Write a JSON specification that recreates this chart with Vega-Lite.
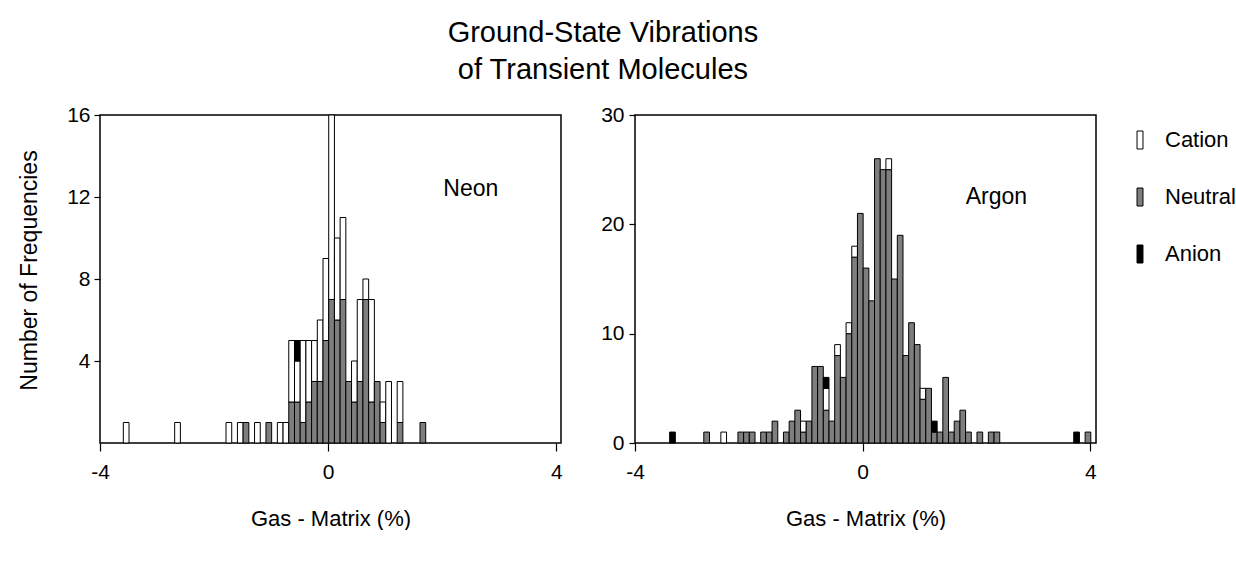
{
  "$schema": "https://vega.github.io/schema/vega-lite/v6.json",
  "padding": {"left": 17, "top": 19, "right": 0, "bottom": 0},
  "background": "white",
  "config": {
    "font": "Liberation Sans",
    "view": {"stroke": "black", "strokeWidth": 1.5},
    "axis": {"domain": false, "grid": false, "labelFont": "Liberation Sans", "labelFontSize": 21, "labelColor": "black", "tickColor": "black", "tickWidth": 1.2, "titleFont": "Liberation Sans", "titleFontSize": 22, "titleFontWeight": "normal", "titleColor": "black"},
    "legend": {"labelFont": "Liberation Sans", "labelFontSize": 22, "labelColor": "black"},
    "concat": {"spacing": 35}
  },
  "title": {"text": ["Ground-State Vibrations", "of Transient Molecules"], "fontSize": 29, "fontWeight": "normal", "lineHeight": 37, "anchor": "middle", "offset": 18, "dx": -31, "font": "Liberation Sans", "color": "black"},
  "datasets": {
    "bars": [
      {"gas": "Neon", "lo": -3.6, "hi": -3.5, "type": "Cation", "n": 1},
      {"gas": "Neon", "lo": -2.7, "hi": -2.6, "type": "Cation", "n": 1},
      {"gas": "Neon", "lo": -1.8, "hi": -1.7, "type": "Cation", "n": 1},
      {"gas": "Neon", "lo": -1.6, "hi": -1.5, "type": "Cation", "n": 1},
      {"gas": "Neon", "lo": -1.5, "hi": -1.4, "type": "Neutral", "n": 1},
      {"gas": "Neon", "lo": -1.3, "hi": -1.2, "type": "Cation", "n": 1},
      {"gas": "Neon", "lo": -1.1, "hi": -1.0, "type": "Neutral", "n": 1},
      {"gas": "Neon", "lo": -0.9, "hi": -0.8, "type": "Cation", "n": 1},
      {"gas": "Neon", "lo": -0.8, "hi": -0.7, "type": "Cation", "n": 1},
      {"gas": "Neon", "lo": -0.7, "hi": -0.6, "type": "Neutral", "n": 2},
      {"gas": "Neon", "lo": -0.7, "hi": -0.6, "type": "Cation", "n": 3},
      {"gas": "Neon", "lo": -0.6, "hi": -0.5, "type": "Neutral", "n": 2},
      {"gas": "Neon", "lo": -0.6, "hi": -0.5, "type": "Cation", "n": 2},
      {"gas": "Neon", "lo": -0.6, "hi": -0.5, "type": "Anion", "n": 1},
      {"gas": "Neon", "lo": -0.5, "hi": -0.4, "type": "Neutral", "n": 1},
      {"gas": "Neon", "lo": -0.5, "hi": -0.4, "type": "Cation", "n": 4},
      {"gas": "Neon", "lo": -0.4, "hi": -0.3, "type": "Neutral", "n": 2},
      {"gas": "Neon", "lo": -0.4, "hi": -0.3, "type": "Cation", "n": 3},
      {"gas": "Neon", "lo": -0.3, "hi": -0.2, "type": "Neutral", "n": 3},
      {"gas": "Neon", "lo": -0.3, "hi": -0.2, "type": "Cation", "n": 2},
      {"gas": "Neon", "lo": -0.2, "hi": -0.1, "type": "Neutral", "n": 3},
      {"gas": "Neon", "lo": -0.2, "hi": -0.1, "type": "Cation", "n": 3},
      {"gas": "Neon", "lo": -0.1, "hi": 0.0, "type": "Neutral", "n": 5},
      {"gas": "Neon", "lo": -0.1, "hi": 0.0, "type": "Cation", "n": 4},
      {"gas": "Neon", "lo": 0.0, "hi": 0.1, "type": "Neutral", "n": 7},
      {"gas": "Neon", "lo": 0.0, "hi": 0.1, "type": "Cation", "n": 9},
      {"gas": "Neon", "lo": 0.1, "hi": 0.2, "type": "Neutral", "n": 6},
      {"gas": "Neon", "lo": 0.1, "hi": 0.2, "type": "Cation", "n": 4},
      {"gas": "Neon", "lo": 0.2, "hi": 0.3, "type": "Neutral", "n": 7},
      {"gas": "Neon", "lo": 0.2, "hi": 0.3, "type": "Cation", "n": 4},
      {"gas": "Neon", "lo": 0.3, "hi": 0.4, "type": "Neutral", "n": 3},
      {"gas": "Neon", "lo": 0.4, "hi": 0.5, "type": "Neutral", "n": 2},
      {"gas": "Neon", "lo": 0.4, "hi": 0.5, "type": "Cation", "n": 2},
      {"gas": "Neon", "lo": 0.5, "hi": 0.6, "type": "Neutral", "n": 3},
      {"gas": "Neon", "lo": 0.5, "hi": 0.6, "type": "Cation", "n": 4},
      {"gas": "Neon", "lo": 0.6, "hi": 0.7, "type": "Neutral", "n": 7},
      {"gas": "Neon", "lo": 0.6, "hi": 0.7, "type": "Cation", "n": 1},
      {"gas": "Neon", "lo": 0.7, "hi": 0.8, "type": "Neutral", "n": 2},
      {"gas": "Neon", "lo": 0.7, "hi": 0.8, "type": "Cation", "n": 5},
      {"gas": "Neon", "lo": 0.8, "hi": 0.9, "type": "Neutral", "n": 3},
      {"gas": "Neon", "lo": 0.9, "hi": 1.0, "type": "Neutral", "n": 1},
      {"gas": "Neon", "lo": 0.9, "hi": 1.0, "type": "Cation", "n": 1},
      {"gas": "Neon", "lo": 1.0, "hi": 1.1, "type": "Cation", "n": 3},
      {"gas": "Neon", "lo": 1.2, "hi": 1.3, "type": "Neutral", "n": 1},
      {"gas": "Neon", "lo": 1.2, "hi": 1.3, "type": "Cation", "n": 2},
      {"gas": "Neon", "lo": 1.6, "hi": 1.7, "type": "Neutral", "n": 1},

      {"gas": "Argon", "lo": -3.4, "hi": -3.3, "type": "Anion", "n": 1},
      {"gas": "Argon", "lo": -2.8, "hi": -2.7, "type": "Neutral", "n": 1},
      {"gas": "Argon", "lo": -2.5, "hi": -2.4, "type": "Cation", "n": 1},
      {"gas": "Argon", "lo": -2.2, "hi": -2.1, "type": "Neutral", "n": 1},
      {"gas": "Argon", "lo": -2.1, "hi": -2.0, "type": "Neutral", "n": 1},
      {"gas": "Argon", "lo": -2.0, "hi": -1.9, "type": "Neutral", "n": 1},
      {"gas": "Argon", "lo": -1.8, "hi": -1.7, "type": "Neutral", "n": 1},
      {"gas": "Argon", "lo": -1.7, "hi": -1.6, "type": "Neutral", "n": 1},
      {"gas": "Argon", "lo": -1.6, "hi": -1.5, "type": "Neutral", "n": 2},
      {"gas": "Argon", "lo": -1.4, "hi": -1.3, "type": "Neutral", "n": 1},
      {"gas": "Argon", "lo": -1.3, "hi": -1.2, "type": "Neutral", "n": 2},
      {"gas": "Argon", "lo": -1.2, "hi": -1.1, "type": "Neutral", "n": 3},
      {"gas": "Argon", "lo": -1.1, "hi": -1.0, "type": "Neutral", "n": 1},
      {"gas": "Argon", "lo": -1.1, "hi": -1.0, "type": "Cation", "n": 1},
      {"gas": "Argon", "lo": -1.0, "hi": -0.9, "type": "Neutral", "n": 2},
      {"gas": "Argon", "lo": -0.9, "hi": -0.8, "type": "Neutral", "n": 7},
      {"gas": "Argon", "lo": -0.8, "hi": -0.7, "type": "Neutral", "n": 7},
      {"gas": "Argon", "lo": -0.7, "hi": -0.6, "type": "Neutral", "n": 3},
      {"gas": "Argon", "lo": -0.7, "hi": -0.6, "type": "Cation", "n": 2},
      {"gas": "Argon", "lo": -0.7, "hi": -0.6, "type": "Anion", "n": 1},
      {"gas": "Argon", "lo": -0.6, "hi": -0.5, "type": "Neutral", "n": 2},
      {"gas": "Argon", "lo": -0.5, "hi": -0.4, "type": "Neutral", "n": 8},
      {"gas": "Argon", "lo": -0.5, "hi": -0.4, "type": "Cation", "n": 1},
      {"gas": "Argon", "lo": -0.4, "hi": -0.3, "type": "Neutral", "n": 6},
      {"gas": "Argon", "lo": -0.3, "hi": -0.2, "type": "Neutral", "n": 10},
      {"gas": "Argon", "lo": -0.3, "hi": -0.2, "type": "Cation", "n": 1},
      {"gas": "Argon", "lo": -0.2, "hi": -0.1, "type": "Neutral", "n": 17},
      {"gas": "Argon", "lo": -0.2, "hi": -0.1, "type": "Cation", "n": 1},
      {"gas": "Argon", "lo": -0.1, "hi": 0.0, "type": "Neutral", "n": 21},
      {"gas": "Argon", "lo": 0.0, "hi": 0.1, "type": "Neutral", "n": 16},
      {"gas": "Argon", "lo": 0.1, "hi": 0.2, "type": "Neutral", "n": 13},
      {"gas": "Argon", "lo": 0.2, "hi": 0.3, "type": "Neutral", "n": 26},
      {"gas": "Argon", "lo": 0.3, "hi": 0.4, "type": "Neutral", "n": 25},
      {"gas": "Argon", "lo": 0.4, "hi": 0.5, "type": "Neutral", "n": 25},
      {"gas": "Argon", "lo": 0.4, "hi": 0.5, "type": "Cation", "n": 1},
      {"gas": "Argon", "lo": 0.5, "hi": 0.6, "type": "Neutral", "n": 15},
      {"gas": "Argon", "lo": 0.6, "hi": 0.7, "type": "Neutral", "n": 19},
      {"gas": "Argon", "lo": 0.7, "hi": 0.8, "type": "Neutral", "n": 8},
      {"gas": "Argon", "lo": 0.8, "hi": 0.9, "type": "Neutral", "n": 11},
      {"gas": "Argon", "lo": 0.9, "hi": 1.0, "type": "Neutral", "n": 9},
      {"gas": "Argon", "lo": 1.0, "hi": 1.1, "type": "Neutral", "n": 4},
      {"gas": "Argon", "lo": 1.0, "hi": 1.1, "type": "Cation", "n": 1},
      {"gas": "Argon", "lo": 1.1, "hi": 1.2, "type": "Neutral", "n": 5},
      {"gas": "Argon", "lo": 1.2, "hi": 1.3, "type": "Neutral", "n": 1},
      {"gas": "Argon", "lo": 1.2, "hi": 1.3, "type": "Anion", "n": 1},
      {"gas": "Argon", "lo": 1.3, "hi": 1.4, "type": "Neutral", "n": 1},
      {"gas": "Argon", "lo": 1.4, "hi": 1.5, "type": "Neutral", "n": 6},
      {"gas": "Argon", "lo": 1.5, "hi": 1.6, "type": "Neutral", "n": 1},
      {"gas": "Argon", "lo": 1.6, "hi": 1.7, "type": "Neutral", "n": 2},
      {"gas": "Argon", "lo": 1.7, "hi": 1.8, "type": "Neutral", "n": 3},
      {"gas": "Argon", "lo": 1.8, "hi": 1.9, "type": "Neutral", "n": 1},
      {"gas": "Argon", "lo": 2.0, "hi": 2.1, "type": "Neutral", "n": 1},
      {"gas": "Argon", "lo": 2.2, "hi": 2.3, "type": "Neutral", "n": 1},
      {"gas": "Argon", "lo": 2.3, "hi": 2.4, "type": "Neutral", "n": 1},
      {"gas": "Argon", "lo": 3.7, "hi": 3.8, "type": "Anion", "n": 1},
      {"gas": "Argon", "lo": 3.9, "hi": 4.0, "type": "Neutral", "n": 1}
    ]
  },
  "resolve": {"scale": {"x": "independent", "y": "independent", "color": "shared"}},
  "hconcat": [
    {
      "width": 461,
      "height": 328,
      "layer": [
        {
          "data": {"name": "bars"},
          "transform": [{"filter": "datum.gas === 'Neon'"}],
          "mark": {"type": "bar", "stroke": "black", "strokeWidth": 1, "binSpacing": 0},
          "encoding": {
            "x": {"field": "lo", "type": "quantitative", "bin": {"binned": true, "step": 0.1},
                  "scale": {"domain": [-4, 4.08], "nice": false, "zero": false},
                  "axis": {"values": [-4, 0, 4], "format": "d", "title": "Gas - Matrix (%)", "tickSize": 8, "labelPadding": 10, "titlePadding": 26, "titleFontSize": 22, "labelFlush": false, "labelExpr": "replace(datum.label, '\u2212', '-')"}},
            "x2": {"field": "hi"},
            "y": {"field": "n", "type": "quantitative", "stack": "zero",
                  "scale": {"domain": [0, 16], "nice": false},
                  "axis": {"values": [4, 8, 12, 16], "title": "Number of Frequencies", "titleFontSize": 23, "titleY": 155, "tickSize": 6, "labelPadding": 4, "titlePadding": 25}},
            "color": {"field": "type", "type": "nominal",
                      "scale": {"domain": ["Cation", "Neutral", "Anion"], "range": ["white", "#7e7e7e", "black"]},
                      "legend": {"title": null, "orient": "right", "offset": 18, "padding": 14,
                                 "symbolType": "M-0.33,-1H0.33V1H-0.33Z", "symbolSize": 324,
                                 "symbolStrokeColor": "black", "symbolStrokeWidth": 1,
                                 "rowPadding": 35, "labelOffset": 14}},
            "order": {"field": "type", "sort": "descending"}
          }
        },
        {
          "data": {"values": [{}]},
          "mark": {"type": "text", "fontSize": 23, "font": "Liberation Sans", "color": "black"},
          "encoding": {
            "x": {"datum": 2.5, "type": "quantitative"},
            "y": {"datum": 12.4, "type": "quantitative"},
            "text": {"value": "Neon"}
          }
        }
      ]
    },
    {
      "width": 461,
      "height": 328,
      "layer": [
        {
          "data": {"name": "bars"},
          "transform": [{"filter": "datum.gas === 'Argon'"}],
          "mark": {"type": "bar", "stroke": "black", "strokeWidth": 1, "binSpacing": 0},
          "encoding": {
            "x": {"field": "lo", "type": "quantitative", "bin": {"binned": true, "step": 0.1},
                  "scale": {"domain": [-4, 4.1], "nice": false, "zero": false},
                  "axis": {"values": [-4, 0, 4], "format": "d", "title": "Gas - Matrix (%)", "tickSize": 8, "labelPadding": 10, "titlePadding": 26, "titleFontSize": 22, "labelFlush": false, "labelExpr": "replace(datum.label, '\u2212', '-')"}},
            "x2": {"field": "hi"},
            "y": {"field": "n", "type": "quantitative", "stack": "zero",
                  "scale": {"domain": [0, 30], "nice": false},
                  "axis": {"values": [0, 10, 20, 30], "title": null, "tickSize": 6, "labelPadding": 5}},
            "color": {"field": "type", "type": "nominal",
                      "scale": {"domain": ["Cation", "Neutral", "Anion"], "range": ["white", "#7e7e7e", "black"]}},
            "order": {"field": "type", "sort": "descending"}
          }
        },
        {
          "data": {"values": [{}]},
          "mark": {"type": "text", "fontSize": 23, "font": "Liberation Sans", "color": "black"},
          "encoding": {
            "x": {"datum": 2.35, "type": "quantitative"},
            "y": {"datum": 22.5, "type": "quantitative"},
            "text": {"value": "Argon"}
          }
        }
      ]
    }
  ]
}
